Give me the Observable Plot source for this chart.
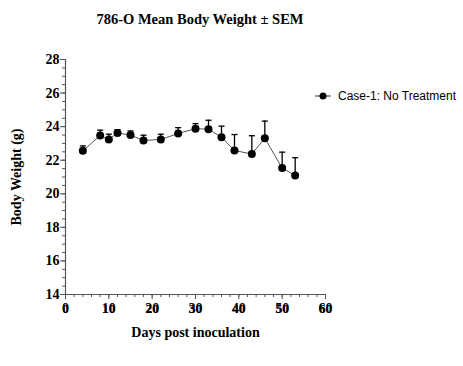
<!DOCTYPE html>
<html>
<head>
<meta charset="utf-8">
<script src="https://cdn.jsdelivr.net/npm/d3@7"></script>
<script src="https://cdn.jsdelivr.net/npm/@observablehq/plot@0.6"></script>
<style>
  html, body { margin: 0; padding: 0; background: #fff; }
  #wrap { position: relative; width: 463px; height: 366px; }
  #title { position: absolute; left: 70px; width: 260px; top: 11px; text-align: center;
    font-family: "Liberation Serif", serif; font-weight: bold; font-size: 14.5px; color: #000; white-space: nowrap; }
  #legend { position: absolute; left: 314px; top: 89px; font-family: "Liberation Sans", Arial, sans-serif;
    font-size: 12px; color: #000; display: flex; align-items: center; white-space: nowrap; }
  #legend svg { margin-right: 6px; }
</style>
</head>
<body>
<div id="wrap">
  <div id="title">786-O Mean Body Weight ± SEM</div>
  <div id="chart"></div>
  <div id="legend"></div>
</div>
<script>
const days = [4, 8, 10, 12, 15, 18, 22, 26, 30, 33, 36, 39, 43, 46, 50, 53];
const means = [22.56, 23.47, 23.24, 23.62, 23.5, 23.17, 23.24, 23.59, 23.88, 23.85, 23.37, 22.58, 22.37, 23.31, 21.53, 21.09];
const sems = [0.29, 0.32, 0.31, 0.2, 0.24, 0.32, 0.31, 0.35, 0.3, 0.53, 0.66, 0.95, 1.09, 1.02, 0.95, 1.06];
const seriesName = "Case-1: No Treatment";
const xTicks = [0, 10, 20, 30, 40, 50, 60];
const yTicks = [14, 16, 18, 20, 22, 24, 26, 28];
const xMinor = d3.range(0, 61, 2);
const yMinor = d3.range(14, 28.01, 0.5);

const data = days.map((d, i) => ({day: d, mean: means[i], top: means[i] + sems[i]}));
const axisColor = "#555";

const chart = Plot.plot({
  width: 463,
  height: 366,
  marginLeft: 65,
  marginRight: 138,
  marginTop: 59,
  marginBottom: 72,
  style: {fontFamily: "Liberation Serif, serif", fontSize: "13px", fontWeight: "bold", color: "#000", background: "transparent"},
  x: {domain: [0, 60]},
  y: {domain: [14, 28]},
  marks: [
    Plot.axisX({ticks: xMinor, tickSize: 3, tickFormat: () => "", stroke: axisColor, label: null}),
    Plot.axisY({ticks: yMinor, tickSize: 3, tickFormat: () => "", stroke: axisColor, label: null}),
    Plot.axisX({ticks: xTicks, tickSize: 5, tickPadding: 4, stroke: axisColor, label: "Days post inoculation",
      labelAnchor: "center", labelArrow: "none", labelOffset: 42, fontSize: 14}),
    Plot.axisY({ticks: yTicks, tickSize: 5, tickPadding: 1, stroke: axisColor, label: "Body Weight (g)",
      labelAnchor: "center", labelArrow: "none", labelOffset: 54, fontSize: 14}),
    Plot.axisX({ticks: xTicks, tickSize: 5, tickPadding: 4, stroke: null, label: null, fontSize: 13}),
    Plot.ruleX([0], {stroke: axisColor, strokeWidth: 1.2}),
    Plot.ruleY([14], {stroke: axisColor, strokeWidth: 1.2}),
    Plot.ruleX(data, {x: "day", y1: "mean", y2: "top", stroke: "#000", strokeWidth: 1.3}),
    Plot.link(data, {x1: d => d.day - 0.7, x2: d => d.day + 0.7, y1: "top", y2: "top", stroke: "#000", strokeWidth: 1.3}),
    Plot.line(data, {x: "day", y: "mean", stroke: "#555", strokeWidth: 1}),
    Plot.dot(data, {x: "day", y: "mean", r: 4, fill: "#000", stroke: "none"})
  ]
});
document.getElementById("chart").appendChild(chart);

const legend = d3.select("#legend");
const ls = legend.append("svg").attr("width", 18).attr("height", 10);
ls.append("line").attr("x1", 1).attr("x2", 17).attr("y1", 5).attr("y2", 5).attr("stroke", "#333").attr("stroke-width", 1);
ls.append("circle").attr("cx", 9).attr("cy", 5).attr("r", 3.5).attr("fill", "#000");
legend.append("span").text(seriesName);
</script>
</body>
</html>
